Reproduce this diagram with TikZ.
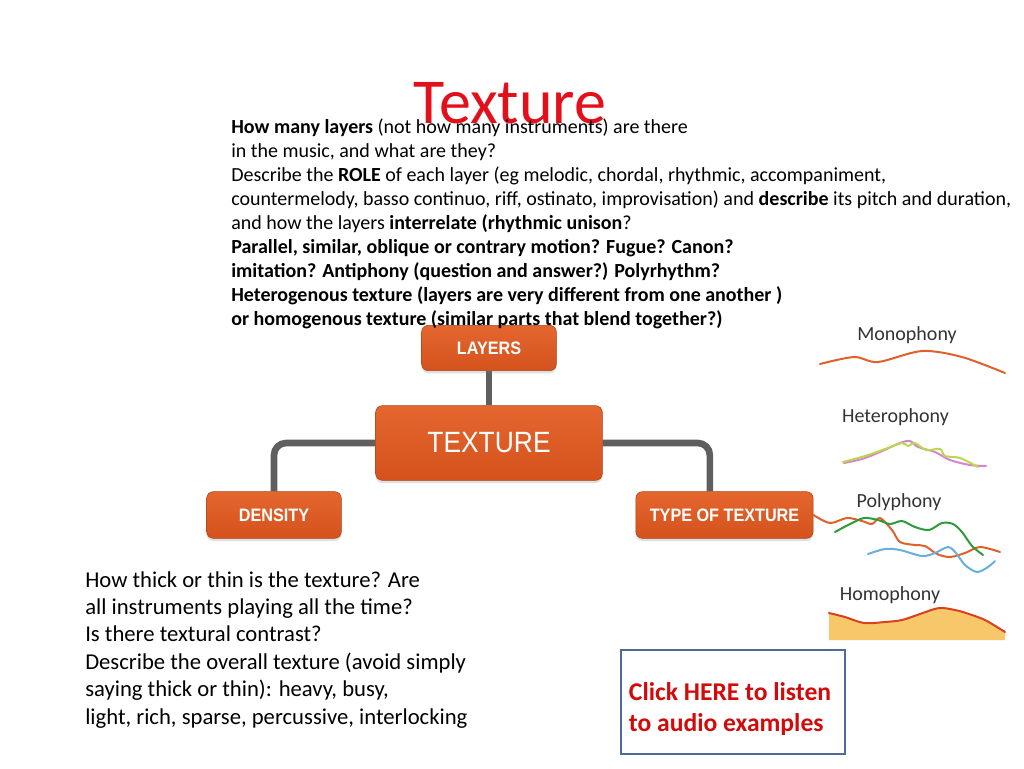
\documentclass[tikz,border=0pt]{standalone}
\usepackage{fontspec}
\setmainfont{Carlito}
\newfontfamily\boxfont[FakeStretch=0.9]{Liberation Sans}
\usetikzlibrary{positioning,shadows,backgrounds}

\definecolor{mapOrange}{HTML}{D5521D}
\definecolor{mapOrangeTop}{HTML}{E4662F}
\definecolor{linkGray}{HTML}{5F5F5F}
\definecolor{titleRed}{HTML}{E3101B}
\definecolor{clickRed}{HTML}{D20A0A}
\definecolor{clickBlue}{HTML}{4E6B94}
\definecolor{waveOrange}{HTML}{E0602A}
\definecolor{wavePink}{HTML}{D982CF}
\definecolor{waveLime}{HTML}{BAD84B}
\definecolor{waveGreen}{HTML}{2E9A3C}
\definecolor{waveBlue}{HTML}{6AAEDA}
\definecolor{waveRed}{HTML}{D9401E}
\definecolor{waveFill}{HTML}{F7C86A}

\begin{document}
\begin{tikzpicture}[x=0.75pt, y=-0.75pt,
    mapbox/.style={rounded corners=5pt, top color=mapOrangeTop, bottom color=mapOrange,
      draw=mapOrange!80!black, line width=0.4pt, text=white, inner sep=0pt,
      drop shadow={shadow xshift=0pt, shadow yshift=-2pt, opacity=0.25}},
    link/.style={linkGray, line width=5pt, rounded corners=9pt},
    wave/.style={line width=1.5pt, line cap=round, line join=round},
    wavelabel/.style={anchor=base, text=black!80, font=\fontsize{15}{17}\selectfont}]

    \useasboundingbox (0,0) rectangle (1024,768);

    % mind map
    \node[mapbox, minimum width=101pt, minimum height=34pt, font=\boxfont\bfseries\fontsize{13.5}{15}\selectfont]
      (layers) at (489,348) {LAYERS};
    \node[mapbox, minimum width=170pt, minimum height=56pt, font=\boxfont\fontsize{22}{24}\selectfont]
      (texture) at (489,443) {TEXTURE};
    \node[mapbox, minimum width=101pt, minimum height=35pt, font=\boxfont\bfseries\fontsize{13.5}{15}\selectfont]
      (density) at (274,515) {DENSITY};
    \node[mapbox, minimum width=133pt, minimum height=35pt, font=\boxfont\bfseries\fontsize{13.5}{15}\selectfont]
      (type) at (724.5,515) {TYPE OF TEXTURE};

    \begin{scope}[on background layer]
      \draw[link] (layers.south) -- (texture.north);
      \draw[link] (texture.west) -| (density.north);
      \draw[link] (texture.east) -| ([xshift=-11pt]type.north);
    \end{scope}

    % title and questions
    \node[anchor=base, text=titleRed, font=\fontsize{48}{48}\selectfont] (title) at (510,123) {Texture};

    \node[anchor=north west, inner sep=0pt, align=left, font=\fontsize{15}{17.97}\selectfont]
      (layerstext) at (231,119) {%
      \textbf{How many layers} (not how many instruments) are there\\
      in the music, and what are they?\\
      Describe the \textbf{ROLE} of each layer (eg melodic, chordal, rhythmic, accompaniment,\\
      countermelody, basso continuo, riff, ostinato, improvisation) and \textbf{describe} its pitch and duration,\\
      and how the layers \textbf{interrelate (rhythmic unison}?\\
      \textbf{Parallel, similar, oblique or contrary motion? Fugue? Canon?}\\
      \textbf{imitation? Antiphony (question and answer?) Polyrhythm?}\\
      \textbf{Heterogenous texture (layers are very different from one another )}\\
      \textbf{or homogenous texture (similar parts that blend together?)}};

    \node[anchor=north west, inner sep=0pt, align=left, font=\fontsize{17}{20.6}\selectfont]
      (densitytext) at (85,571) {%
      How thick or thin is the texture? Are\\
      all instruments playing all the time?\\
      Is there textural contrast?\\
      Describe the overall texture (avoid simply\\
      saying thick or thin): heavy, busy,\\
      light, rich, sparse, percussive, interlocking};

    % link box
    \node[draw=clickBlue, line width=1.5pt, minimum width=168pt, minimum height=78pt]
      (clickbox) at (733,702) {};
    \node[align=left, inner sep=0pt, text=clickRed, font=\bfseries\fontsize{19.2}{22.6}\selectfont]
      (clicktext) at (730,709) {Click HERE to listen\\to audio examples};

    % texture sketches
    \node[wavelabel] (mono) at (907,340) {Monophony};
    \draw[wave, waveOrange] plot[smooth] coordinates {(820,364) (854,357) (878,362) (922,351) (962,357) (1005,373)};

    \node[wavelabel] (hetero) at (895.5,422) {Heterophony};
    \draw[wave, wavePink] plot[smooth] coordinates {(844,463) (862,459) (880,452) (900,443) (910,441) (918,447) (935,452) (950,460) (970,465) (986,466)};
    \draw[wave, waveLime] plot[smooth] coordinates {(843,462) (865,456) (885,449) (902,443) (908,446) (915,443) (926,450) (940,449) (945,456) (960,458) (978,467)};

    \node[wavelabel] (poly) at (899,507) {Polyphony};
    \draw[wave, waveOrange] plot[smooth] coordinates {(type.east) (830,523) (847,518) (862,521) (872,524) (880,518) (892,530) (900,542) (915,545) (925,546) (937,554) (950,557) (965,553) (980,547) (1000,552)};
    \draw[wave, waveGreen] plot[smooth] coordinates {(835,532) (850,524) (864,518) (878,520) (890,524) (902,521) (915,527) (929,530) (942,523) (953,524) (962,532) (972,546) (983,555)};
    \draw[wave, waveBlue] plot[smooth] coordinates {(868,554) (885,549) (900,550) (922,556) (935,553) (948,547) (956,553) (965,565) (977,572) (988,567) (995,561)};

    \node[wavelabel] (homo) at (890,600) {Homophony};
    \fill[waveFill] plot[smooth] coordinates {(829,613) (845,617) (864,623) (885,622) (902,620) (920,614) (939,608) (955,610) (966,613) (985,620) (1005,632)} -- (1005,640) -- (829,640) -- cycle;
    \draw[wave, waveRed] plot[smooth] coordinates {(829,613) (845,617) (864,623) (885,622) (902,620) (920,614) (939,608) (955,610) (966,613) (985,620) (1005,632)};
\end{tikzpicture}
\end{document}
